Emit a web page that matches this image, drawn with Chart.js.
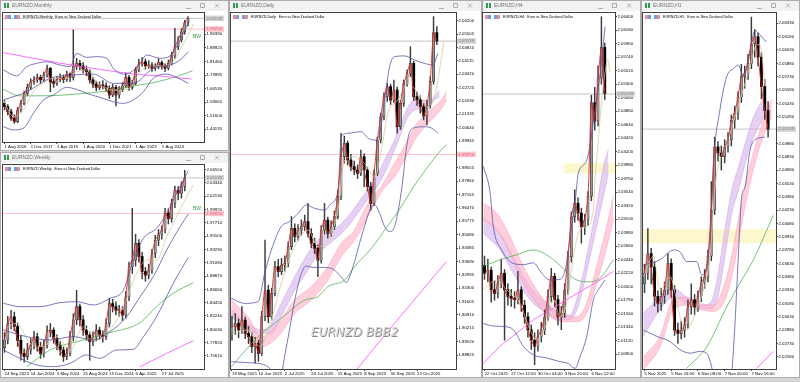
<!DOCTYPE html>
<html>
<head>
<meta charset="utf-8">
<script src="https://cdn.jsdelivr.net/npm/chart.js@4.4.1/dist/chart.umd.min.js"></script>
<style>
  html, body { margin: 0; padding: 0; }
  body { width: 800px; height: 382px; position: relative; overflow: hidden; background: #d5d5d5; }
  canvas { position: absolute; }
</style>
</head>
<body>
<canvas id="monthly" width="229" height="151" style="left:0;top:0"></canvas>
<canvas id="weekly" width="229" height="226" style="left:0;top:152px"></canvas>
<canvas id="daily" width="253" height="378" style="left:229px;top:0"></canvas>
<canvas id="h4" width="159" height="378" style="left:482px;top:0"></canvas>
<canvas id="h1" width="159" height="378" style="left:641px;top:0"></canvas>
<script>
// ---- shared levels ----
const lastPrice = 2.0514;
const pinkLevel = 1.9925;
const lastText = '2.05139';
const pinkText = '1.99250';

// ---- Monthly: one row per 2 months, [open, high, low, close] ----
const monthlyCandles = [
  [1.585,1.600,1.548,1.566],[1.566,1.578,1.521,1.538],[1.538,1.552,1.490,1.502],[1.502,1.521,1.474,1.484],
  [1.484,1.562,1.478,1.548],[1.548,1.601,1.535,1.584],[1.584,1.652,1.575,1.639],[1.639,1.690,1.625,1.672],
  [1.672,1.719,1.660,1.703],[1.703,1.731,1.688,1.713],[1.713,1.745,1.699,1.727],[1.727,1.739,1.694,1.713],
  [1.713,1.756,1.703,1.740],[1.740,1.795,1.728,1.777],[1.777,1.781,1.648,1.703],[1.703,1.722,1.672,1.694],
  [1.694,1.731,1.683,1.716],[1.716,1.746,1.702,1.727],[1.727,1.741,1.698,1.716],[1.716,1.762,1.705,1.745],
  [1.745,1.752,1.703,1.727],[1.727,1.988,1.712,1.786],[1.786,1.832,1.770,1.804],[1.804,1.821,1.768,1.790],
  [1.790,1.808,1.752,1.771],[1.771,1.789,1.735,1.758],[1.758,1.769,1.696,1.713],[1.713,1.728,1.671,1.690],
  [1.690,1.706,1.652,1.672],[1.672,1.703,1.660,1.685],[1.685,1.709,1.664,1.680],[1.680,1.698,1.648,1.667],
  [1.667,1.681,1.611,1.630],[1.630,1.689,1.621,1.672],[1.672,1.683,1.570,1.630],[1.630,1.676,1.612,1.661],
  [1.661,1.699,1.648,1.680],[1.680,1.752,1.669,1.727],[1.727,1.738,1.655,1.672],[1.672,1.712,1.660,1.694],
  [1.694,1.782,1.686,1.768],[1.768,1.826,1.757,1.801],[1.801,1.836,1.788,1.813],[1.813,1.828,1.772,1.790],
  [1.790,1.819,1.776,1.795],[1.795,1.808,1.760,1.777],[1.777,1.803,1.765,1.786],[1.786,1.829,1.774,1.808],
  [1.808,1.818,1.772,1.790],[1.790,1.801,1.758,1.777],[1.777,1.822,1.768,1.804],[1.804,1.866,1.795,1.845],
  [1.845,1.997,1.831,1.896],[1.896,1.951,1.880,1.933],[1.933,1.995,1.921,1.978],[1.978,2.041,1.965,2.028],
  [2.028,2.061,2.010,2.0514]
];
const monthlyPriceTicks = [1.96390,1.88925,1.81460,1.73995,1.66530,1.59065,1.51600,1.44135];
const monthlyDateSlots = [0,8,16,24,32,40,48];
const monthlyDateNames = ['1 Aug 2016','1 Dec 2017','1 Apr 2019','1 Aug 2020','1 Dec 2021','1 Apr 2023','1 Aug 2024'];
const monthlyBandUp = [[-0.36,1.768],[3.7,1.735],[6.8,1.786],[9.8,1.804],[12.9,1.813],[16.9,1.795],[20.0,1.786],[22.0,1.859],[25.1,1.837],[28.1,1.841],[31.2,1.832],[33.2,1.777],[36.3,1.745],[38.3,1.753],[41.4,1.804],[43.4,1.850],[47.5,1.832],[50.5,1.845],[52.5,1.896],[54.6,1.969],[56.4,2.043]];
const monthlyBandMid = [[-0.36,1.603],[6.8,1.648],[13.9,1.722],[21.0,1.740],[27.1,1.745],[33.2,1.694],[39.3,1.694],[45.4,1.777],[50.5,1.795],[53.6,1.823],[56.1,1.868]];
const monthlyBandLow = [[-0.36,1.456],[2.7,1.438],[5.75,1.447],[8.8,1.529],[11.85,1.603],[14.9,1.630],[19.0,1.672],[22.0,1.661],[25.1,1.639],[29.1,1.617],[33.2,1.593],[36.3,1.584],[39.3,1.603],[42.4,1.648],[45.4,1.722],[49.5,1.745],[52.5,1.727],[56.1,1.694]];
const monthlyGreen = [[-0.36,1.661],[4.7,1.625],[13.9,1.626],[24.1,1.639],[32.2,1.654],[39.3,1.680],[44.4,1.694],[49.5,1.716],[53.6,1.738],[57.4,1.764]];
const monthlyMagenta = [[-0.36,1.863],[8.8,1.832],[19.0,1.799],[29.1,1.771],[39.3,1.746],[49.5,1.731],[57.1,1.718]];
const monthlyTan = [[-0.36,1.603],[2.7,1.511],[5.75,1.548],[8.8,1.648],[11.85,1.694],[14.9,1.722],[19.0,1.722],[22.0,1.758],[25.1,1.768],[28.1,1.703],[32.2,1.661],[35.2,1.654],[38.3,1.672],[41.4,1.758],[44.4,1.790],[48.5,1.790],[51.5,1.813],[54.1,1.896],[56.1,1.960],[57.6,2.021]];

// ---- Weekly: one row per 2 weeks ----
const weeklyCandles = [
  [1.770,1.795,1.762,1.7826],[1.7826,1.822,1.776,1.810],[1.810,1.832,1.801,1.821],[1.821,1.829,1.798,1.805],
  [1.805,1.811,1.772,1.782],[1.782,1.790,1.749,1.760],[1.760,1.768,1.746,1.755],[1.755,1.777,1.750,1.766],
  [1.766,1.785,1.759,1.774],[1.774,1.797,1.768,1.788],[1.788,1.794,1.764,1.771],[1.771,1.779,1.752,1.760],
  [1.760,1.782,1.754,1.774],[1.774,1.806,1.769,1.796],[1.796,1.810,1.788,1.799],[1.799,1.803,1.777,1.785],
  [1.785,1.791,1.766,1.774],[1.774,1.780,1.757,1.766],[1.766,1.771,1.747,1.755],[1.755,1.769,1.750,1.760],
  [1.760,1.797,1.756,1.788],[1.788,1.826,1.781,1.816],[1.816,1.865,1.808,1.838],[1.838,1.842,1.806,1.816],
  [1.816,1.823,1.790,1.799],[1.799,1.806,1.782,1.791],[1.791,1.796,1.749,1.780],[1.780,1.796,1.773,1.788],
  [1.788,1.808,1.781,1.799],[1.799,1.804,1.783,1.791],[1.791,1.798,1.779,1.788],[1.788,1.818,1.783,1.810],
  [1.810,1.852,1.804,1.843],[1.843,1.850,1.829,1.838],[1.838,1.846,1.824,1.832],[1.832,1.840,1.822,1.832],
  [1.832,1.838,1.815,1.824],[1.824,1.863,1.819,1.854],[1.854,1.912,1.848,1.904],[1.904,2.001,1.893,1.915],
  [1.915,1.958,1.905,1.943],[1.943,1.949,1.912,1.921],[1.921,1.928,1.884,1.896],[1.896,1.903,1.880,1.890],
  [1.890,1.908,1.884,1.899],[1.899,1.933,1.893,1.926],[1.926,1.956,1.919,1.948],[1.948,1.966,1.939,1.957],
  [1.957,1.972,1.950,1.965],[1.965,2.001,1.960,1.993],[1.993,2.000,1.975,1.984],[1.984,2.016,1.978,2.009],
  [2.009,2.038,2.002,2.031],[2.031,2.037,2.015,2.026],[2.026,2.045,2.018,2.037],[2.037,2.064,2.030,2.0514]
];
const weeklyPriceTicks = [2.06550,2.04340,2.02130,1.99920,1.97710,1.95500,1.93290,1.91080,1.88870,1.86660,1.84450,1.82240,1.80030,1.77820,1.75610];
const weeklyDateSlots = [0,8,16,24,32,40,48];
const weeklyDateNames = ['24 Sep 2023','14 Jan 2024','5 May 2024','25 Aug 2024','15 Dec 2024','6 Apr 2025','27 Jul 2025'];
const weeklyBandUp = [[-0.36,1.8434],[4.7,1.8379],[10.8,1.8379],[16.9,1.8445],[22.0,1.8462],[27.1,1.8407],[32.2,1.8517],[36.3,1.8655],[39.3,1.9153],[42.4,1.9512],[46.4,1.9678],[49.5,1.9926],[52.5,2.0258],[56.1,2.0634]];
const weeklyBandMid = [[-0.36,1.7992],[6.8,1.7881],[13.9,1.7826],[21.0,1.7881],[27.1,1.7826],[32.2,1.7964],[37.3,1.8213],[41.4,1.8545],[45.4,1.8876],[49.5,1.9318],[53.6,1.9705],[56.1,1.9915]];
const weeklyBandLow = [[-0.36,1.7660],[4.7,1.7522],[9.8,1.7412],[14.9,1.7384],[20.0,1.7439],[25.1,1.7578],[29.1,1.7522],[34.2,1.7660],[39.3,1.7671],[42.4,1.7881],[46.4,1.8213],[51.5,1.8766],[56.1,1.9197]];
const weeklyGreen = [[6.8,1.7384],[13.9,1.7660],[24.1,1.7826],[32.2,1.7948],[41.4,1.8114],[46.4,1.8379],[51.5,1.8600],[57.6,1.8777]];
const weeklyMagenta = [[41.4,1.7384],[49.5,1.7605],[57.6,1.7815]];
const weeklyTan = [[-0.36,1.7992],[3.7,1.8102],[7.8,1.7771],[11.85,1.7716],[15.9,1.7881],[20.0,1.7660],[24.1,1.8047],[28.1,1.7826],[32.2,1.7992],[36.3,1.8379],[40.3,1.8932],[43.4,1.9153],[46.4,1.9153],[49.5,1.9539],[52.5,1.9871],[55.1,2.0147],[57.6,2.0396]];

// ---- Daily: one row per 2 sessions ----
const dailyCandles = [
  [1.9000,1.9085,1.8960,1.9030],[1.9030,1.9098,1.8990,1.9047],[1.9047,1.9070,1.8972,1.9013],[1.9013,1.9134,1.8995,1.9064],
  [1.9064,1.9080,1.8968,1.8995],[1.8995,1.9031,1.8942,1.8978],[1.8978,1.8998,1.8895,1.8926],[1.8926,1.8975,1.8840,1.8943],
  [1.8943,1.8960,1.8850,1.8891],[1.8891,1.9110,1.8880,1.9082],[1.9082,1.9480,1.9060,1.9220],[1.9220,1.9245,1.9050,1.9082],
  [1.9082,1.9230,1.9065,1.9203],[1.9203,1.9370,1.9190,1.9342],[1.9342,1.9380,1.9290,1.9316],[1.9316,1.9385,1.9300,1.9350],
  [1.9350,1.9398,1.9318,1.9359],[1.9359,1.9470,1.9340,1.9446],[1.9446,1.9602,1.9430,1.9541],[1.9541,1.9565,1.9470,1.9498],
  [1.9498,1.9560,1.9480,1.9532],[1.9532,1.9585,1.9505,1.9550],[1.9550,1.9610,1.9530,1.9576],[1.9576,1.9671,1.9495,1.9515],
  [1.9515,1.9540,1.9440,1.9463],[1.9463,1.9490,1.9410,1.9437],[1.9437,1.9455,1.9290,1.9376],[1.9376,1.9555,1.9360,1.9532],
  [1.9532,1.9671,1.9510,1.9584],[1.9584,1.9600,1.9490,1.9515],[1.9515,1.9580,1.9500,1.9550],[1.9550,1.9630,1.9535,1.9602],
  [1.9602,1.9740,1.9590,1.9706],[1.9706,2.0035,1.9690,1.9913],[1.9913,2.0020,1.9880,1.9983],[1.9983,1.9995,1.9870,1.9896],
  [1.9896,1.9925,1.9840,1.9861],[1.9861,1.9890,1.9820,1.9844],[1.9844,1.9870,1.9800,1.9827],[1.9827,1.9948,1.9815,1.9913],
  [1.9913,1.9930,1.9758,1.9844],[1.9844,1.9860,1.9735,1.9758],[1.9758,1.9780,1.9636,1.9671],[1.9671,1.9845,1.9660,1.9827],
  [1.9827,2.0015,1.9815,2.0000],[2.0000,2.0140,1.9985,2.0121],[2.0121,2.0245,2.0105,2.0225],[2.0225,2.0294,2.0200,2.0277],
  [2.0277,2.0290,2.0185,2.0208],[2.0208,2.0312,2.0195,2.0260],[2.0260,2.0275,2.0035,2.0069],[2.0069,2.0205,2.0055,2.0190],
  [2.0190,2.0312,2.0175,2.0295],[2.0295,2.0365,2.0280,2.0347],[2.0347,2.0485,2.0330,2.0399],[2.0399,2.0410,2.0205,2.0225],
  [2.0225,2.0250,2.0180,2.0208],[2.0208,2.0230,2.0140,2.0173],[2.0173,2.0190,2.0105,2.0125],[2.0125,2.0205,2.0078,2.0180],
  [2.0180,2.0329,2.0165,2.0305],[2.0305,2.0641,2.0290,2.0558],[2.0558,2.0590,2.0495,2.0514]
];
const dailyPriceTicks = [2.06200,2.05505,2.04810,2.04115,2.03420,2.02725,2.02030,2.01335,2.00640,1.99945,1.99250,1.98555,1.97860,1.97165,1.96470,1.95775,1.95080,1.94385,1.93690,1.92995,1.92300,1.91605,1.90910,1.90215,1.89520,1.88825];
const dailyDateSlots = [0,8,16,24,32,40,48,56];
const dailyDateNames = ['19 May 2025','10 Jun 2025','2 Jul 2025','24 Jul 2025','15 Aug 2025','8 Sep 2025','30 Sep 2025','22 Oct 2025'];
const dailyBandUp = [[-0.2,1.9177],[3.8,1.9151],[7.9,1.9160],[9.9,1.9307],[11.9,1.9428],[14.9,1.9550],[17.4,1.9576],[20.0,1.9619],[22.5,1.9662],[25.0,1.9645],[28.0,1.9636],[30.1,1.9671],[32.1,1.9740],[33.1,2.0017],[35.1,2.0035],[39.1,2.0043],[41.2,2.0009],[43.2,2.0000],[44.7,2.0035],[46.2,2.0208],[47.7,2.0381],[49.2,2.0433],[52.2,2.0437],[55.3,2.0416],[58.3,2.0398],[60.8,2.0390],[62.3,2.0450]];
const dailyBandLow = [[-0.2,1.8848],[4.8,1.8843],[8.9,1.8836],[11.4,1.8813],[12.9,1.8770],[14.7,1.8770],[15.9,1.8874],[17.4,1.9013],[19.0,1.9168],[21.0,1.9307],[22.5,1.9345],[24.5,1.9338],[27.0,1.9338],[30.1,1.9333],[32.1,1.9307],[33.6,1.9276],[34.6,1.9259],[35.6,1.9290],[37.1,1.9368],[38.6,1.9463],[40.1,1.9550],[41.7,1.9636],[43.2,1.9662],[44.7,1.9619],[46.2,1.9550],[47.7,1.9524],[49.2,1.9550],[50.7,1.9671],[51.7,1.9792],[52.7,1.9948],[53.8,2.0043],[55.8,2.0066],[58.3,2.0069],[60.5,2.0061],[62.3,2.0035]];
const dailyGreen = [[-0.2,1.8822],[7.9,1.8978],[14.9,1.9073],[22.0,1.9168],[26.0,1.9186],[29.0,1.9238],[34.1,1.9272],[37.1,1.9342],[42.2,1.9437],[46.2,1.9532],[51.2,1.9653],[54.3,1.9740],[59.3,1.9861],[63.3,1.9948],[64.9,1.9974]];
const dailyMagenta = [[34.6,1.8742],[49.2,1.9047],[64.9,1.9368]];
const dailyTan = [[-0.2,1.8995],[4.8,1.9013],[8.4,1.8926],[11.9,1.9064],[14.9,1.9255],[19.0,1.9446],[23.0,1.9532],[26.0,1.9446],[29.0,1.9480],[32.1,1.9636],[34.1,1.9896],[37.1,1.9913],[40.1,1.9878],[43.2,1.9809],[45.2,1.9948],[47.2,2.0139],[50.2,2.0208],[53.3,2.0295],[56.3,2.0243],[59.3,2.0173],[61.3,2.0225],[63.3,2.0416],[64.1,2.0511]];
const dailyPurpleX = [-0.2,4.8,8.9,11.9,14.9,19.0,23.0,26.0,29.0,32.1,35.1,38.1,40.6,43.2,46.2,49.2,51.2,53.3,55.3,59.3,61.3,62.8];
const dailyPurpleTop = [1.9116,1.9047,1.9013,1.9047,1.9151,1.9290,1.9411,1.9480,1.9515,1.9550,1.9602,1.9671,1.9731,1.9792,1.9896,2.0000,2.0087,2.0173,2.0208,2.0208,2.0225,2.0260];
const dailyPurpleBottom = [1.9082,1.9013,1.8995,1.8995,1.9082,1.9220,1.9324,1.9411,1.9454,1.9498,1.9550,1.9619,1.9680,1.9740,1.9827,1.9948,2.0035,2.0121,2.0156,2.0173,2.0208,2.0225];
const dailyPinkX = [-0.2,4.8,8.9,13.9,19.0,24.0,29.0,33.1,37.1,40.1,42.2,45.2,49.2,52.2,55.3,58.3,61.3,63.8,64.9];
const dailyPinkTop = [1.9168,1.9082,1.8978,1.9047,1.9168,1.9238,1.9342,1.9463,1.9532,1.9636,1.9697,1.9758,1.9879,1.9965,2.0069,2.0130,2.0173,2.0217,2.0251];
const dailyPinkBottom = [1.9099,1.9030,1.8926,1.8978,1.9099,1.9168,1.9272,1.9394,1.9480,1.9567,1.9636,1.9730,1.9810,1.9896,2.0000,2.0069,2.0121,2.0173,2.0208];

// ---- H4: one row per 2 bars ----
const h4Candles = [
  [2.0235,2.0250,2.0212,2.0222],[2.0222,2.0245,2.0208,2.0227],[2.0227,2.0232,2.0175,2.0195],[2.0195,2.0210,2.0178,2.0189],
  [2.0189,2.0218,2.0182,2.0206],[2.0206,2.0245,2.0198,2.0222],[2.0222,2.0228,2.0113,2.0195],[2.0195,2.0205,2.0170,2.0184],
  [2.0184,2.0196,2.0168,2.0181],[2.0181,2.0192,2.0165,2.0179],[2.0179,2.0225,2.0172,2.0195],[2.0195,2.0200,2.0160,2.0170],
  [2.0170,2.0178,2.0140,2.0151],[2.0151,2.0158,2.0118,2.0130],[2.0130,2.0138,2.0098,2.0113],[2.0113,2.0125,2.0073,2.0103],
  [2.0103,2.0130,2.0095,2.0119],[2.0119,2.0142,2.0110,2.0130],[2.0130,2.0162,2.0122,2.0151],[2.0151,2.0195,2.0145,2.0184],
  [2.0184,2.0230,2.0175,2.0217],[2.0217,2.0222,2.0168,2.0179],[2.0179,2.0186,2.0138,2.0151],[2.0151,2.0168,2.0130,2.0157],
  [2.0157,2.0205,2.0150,2.0195],[2.0195,2.0258,2.0188,2.0249],[2.0249,2.0322,2.0240,2.0314],[2.0314,2.0358,2.0305,2.0336],
  [2.0336,2.0345,2.0308,2.0320],[2.0320,2.0328,2.0271,2.0298],[2.0298,2.0318,2.0285,2.0309],[2.0309,2.0355,2.0300,2.0347],
  [2.0347,2.0512,2.0340,2.0500],[2.0500,2.0525,2.0455,2.0470],[2.0470,2.0560,2.0462,2.0540],[2.0540,2.0640,2.0530,2.0590],
  [2.0590,2.0597,2.0505,2.0515]
];
const h4PriceTicks = [2.06400,2.06180,2.05960,2.05740,2.05520,2.05300,2.05080,2.04860,2.04640,2.04420,2.04200,2.03980,2.03760,2.03540,2.03320,2.03100,2.02880,2.02660,2.02440,2.02220,2.02000,2.01780,2.01560,2.01340,2.01120,2.00900];
const h4DateSlots = [0,8,16,24,32];
const h4DateNames = ['22 Oct 2025','27 Oct 12:00','30 Oct 04:00','3 Nov 20:00','6 Nov 12:00'];
const h4BandUp = [[-0.35,2.0396],[1.65,2.0354],[2.64,2.0298],[5.14,2.0260],[8.63,2.0238],[11.63,2.0236],[14.62,2.0239],[17.12,2.0222],[19.61,2.0211],[22.6,2.0212],[24.4,2.0233],[25.8,2.0287],[27.1,2.0336],[28.1,2.0385],[30.6,2.0406],[33.1,2.0488],[34.6,2.0548],[36.1,2.0624]];
const h4BandLow = [[-0.35,2.0140],[2.64,2.0136],[6.14,2.0135],[8.63,2.0130],[11.63,2.0103],[14.62,2.0089],[18.61,2.0084],[22.6,2.0078],[25.1,2.0075],[27.1,2.0067],[28.6,2.0086],[30.6,2.0119],[32.6,2.0179],[34.1,2.0195],[36.1,2.0211]];
const h4Green = [[-0.35,2.0233],[4.64,2.0244],[9.63,2.0252],[14.62,2.0260],[18.61,2.0252],[22.6,2.0235],[26.6,2.0214],[30.59,2.0208],[34.58,2.0214],[38.57,2.0244]];
const h4Magenta = [[-0.35,2.0075],[4.64,2.0103],[9.63,2.0124],[14.62,2.0146],[19.61,2.0162],[24.6,2.0179],[29.59,2.0195],[34.58,2.0211],[38.57,2.0225]];
const h4Tan = [[-0.35,2.0195],[3.64,2.0211],[6.64,2.0195],[10.63,2.0173],[13.62,2.0130],[15.62,2.0113],[18.61,2.0140],[20.61,2.0179],[22.6,2.0151],[24.6,2.0173],[26.6,2.0249],[28.59,2.0293],[30.59,2.0298],[32.58,2.0325],[33.08,2.0374],[34.08,2.0439],[35.08,2.0504],[36.08,2.0548],[36.88,2.0570],[37.58,2.0550]];
const h4PurpleX = [-0.35,4.64,8.63,13.62,18.61,22.6,25.6,27.6,29.59,31.59,33.58,35.58,37.08];
const h4PurpleTop = [2.0314,2.0287,2.0249,2.0200,2.0173,2.0157,2.0154,2.0179,2.0222,2.0276,2.0331,2.0395,2.0423];
const h4PurpleBottom = [2.0287,2.0260,2.0222,2.0179,2.0157,2.0146,2.0146,2.0162,2.0200,2.0249,2.0298,2.0347,2.0385];
const h4PinkX = [-0.35,3.64,7.63,11.63,15.62,19.61,23.6,27.6,30.59,33.58,36.58,38.57];
const h4PinkTop = [2.0336,2.0320,2.0282,2.0233,2.0195,2.0168,2.0154,2.0151,2.0173,2.0233,2.0298,2.0347];
const h4PinkBottom = [2.0309,2.0293,2.0254,2.0206,2.0173,2.0151,2.0143,2.0143,2.0157,2.0206,2.0265,2.0309];
const h4Zone = [23.6, 39.1, 2.03849, 2.04012];

// ---- H1: one row per 2 bars ----
const h1Candles = [
  [2.0340,2.0362,2.0330,2.0352],[2.0352,2.0402,2.0345,2.0374],[2.0374,2.0380,2.0340,2.0359],[2.0359,2.0365,2.0315,2.0326],
  [2.0326,2.0332,2.0308,2.0318],[2.0318,2.0335,2.0310,2.0326],[2.0326,2.0342,2.0318,2.0333],[2.0333,2.0374,2.0328,2.0363],
  [2.0363,2.0368,2.0325,2.0333],[2.0333,2.0338,2.0282,2.0288],[2.0288,2.0296,2.0273,2.0284],[2.0284,2.0298,2.0278,2.0288],
  [2.0288,2.0302,2.0280,2.0294],[2.0294,2.0322,2.0290,2.0314],[2.0314,2.0340,2.0306,2.0322],[2.0322,2.0328,2.0305,2.0314],
  [2.0314,2.0332,2.0309,2.0326],[2.0326,2.0348,2.0320,2.0341],[2.0341,2.0356,2.0335,2.0348],[2.0348,2.0378,2.0342,2.0371],
  [2.0371,2.0455,2.0366,2.0423],[2.0423,2.0505,2.0418,2.0494],[2.0494,2.0500,2.0478,2.0487],[2.0487,2.0495,2.0468,2.0483],
  [2.0483,2.0502,2.0476,2.0494],[2.0494,2.0510,2.0488,2.0502],[2.0502,2.0530,2.0495,2.0524],[2.0524,2.0540,2.0515,2.0532],
  [2.0532,2.0556,2.0525,2.0550],[2.0550,2.0587,2.0544,2.0573],[2.0573,2.0585,2.0560,2.0577],[2.0577,2.0598,2.0570,2.0588],
  [2.0588,2.0640,2.0582,2.0610],[2.0610,2.0626,2.0595,2.0618],[2.0618,2.0622,2.0585,2.0595],[2.0595,2.0600,2.0548,2.0562],
  [2.0562,2.0570,2.0525,2.0535],[2.0535,2.0545,2.0505,2.0514]
];
const h1PriceTicks = [2.06330,2.06180,2.06030,2.05880,2.05730,2.05580,2.05430,2.05280,2.05130,2.04980,2.04830,2.04680,2.04530,2.04380,2.04230,2.04080,2.03930,2.03780,2.03630,2.03480,2.03330,2.03180,2.03030,2.02880,2.02730,2.02580];
const h1DateSlots = [0,8,16,24,32];
const h1DateNames = ['5 Nov 2025','5 Nov 16:00','6 Nov 08:00','7 Nov 00:00','7 Nov 16:00'];
const h1BandUp = [[-0.35,2.0361],[4.64,2.0367],[8.63,2.0378],[10.63,2.0376],[12.62,2.0365],[15.62,2.0365],[17.12,2.0350],[18.61,2.0357],[19.61,2.0389],[20.11,2.0423],[20.61,2.0472],[22.6,2.0536],[24.6,2.0573],[26.6,2.0582],[28.09,2.0586],[29.59,2.0573],[31.59,2.0603],[33.08,2.0625],[34.58,2.0620],[36.38,2.0612]];
const h1BandLow = [[-0.35,2.0288],[3.64,2.0281],[7.63,2.0275],[10.63,2.0266],[13.62,2.0262],[16.62,2.0264],[18.61,2.0262],[19.81,2.0251],[21.11,2.0230],[24.6,2.0215],[26.1,2.0240],[27.1,2.0296],[28.09,2.0371],[29.09,2.0438],[30.09,2.0449],[31.59,2.0490],[33.08,2.0502],[36.08,2.0505]];
const h1Green = [[12.62,2.0245],[18.61,2.0269],[24.6,2.0314],[28.59,2.0341],[32.58,2.0367],[38.57,2.0417]];
const h1Magenta = [[33.58,2.0245],[38.57,2.0264]];
const h1Tan = [[-0.35,2.0348],[2.64,2.0371],[4.64,2.0333],[7.63,2.0348],[10.63,2.0303],[12.62,2.0288],[15.62,2.0311],[17.62,2.0333],[19.61,2.0371],[21.11,2.0449],[22.6,2.0479],[25.6,2.0509],[28.59,2.0547],[31.59,2.0584],[33.58,2.0609],[34.58,2.0609],[36.08,2.0562]];
const h1PurpleX = [-0.35,4.64,8.63,12.62,16.62,19.61,21.8,23.8,26.1,28.1,30.1,32.1,34.1,35.8];
const h1PurpleTop = [2.0307,2.0325,2.0335,2.0325,2.0316,2.0318,2.0346,2.0394,2.0445,2.0471,2.0497,2.0522,2.0539,2.0548];
const h1PurpleBottom = [2.0281,2.0311,2.0325,2.0318,2.0312,2.0312,2.0323,2.0364,2.0419,2.0445,2.0475,2.0500,2.0516,2.0528];
const h1PinkX = [-0.35,4.64,8.63,12.62,16.62,20.61,24.1,26.4,28.8,30.8,32.9,34.8,36.8,38.1];
const h1PinkTop = [2.0258,2.0281,2.0322,2.0325,2.0318,2.0316,2.0341,2.0377,2.0426,2.0461,2.0491,2.0515,2.0537,2.0547];
const h1PinkBottom = [2.0243,2.0269,2.0311,2.0316,2.0311,2.0309,2.0322,2.0353,2.0402,2.0440,2.0473,2.0498,2.0517,2.0528];
const h1Zone = [-0.45, 39.4, 2.03855, 2.04013];

Chart.defaults.font.family = '"Liberation Sans", Arial, sans-serif';
Chart.defaults.font.size = 4.3;
Chart.defaults.color = '#000';

function line(points, color, width, order, extra) {
  return Object.assign({
    type: 'line',
    data: points.map(p => ({x: p[0], y: p[1]})),
    borderColor: color,
    borderWidth: width,
    pointRadius: 0,
    cubicInterpolationMode: 'monotone',
    fill: false,
    order: order
  }, extra || {});
}

// two edges, second one filled down to the first
function band(xs, lo, hi, edge, fillColor, order) {
  return [
    line(xs.map((x, i) => [x, lo[i]]), edge, 0.6, order),
    line(xs.map((x, i) => [x, hi[i]]), edge, 0.6, order, {fill: '-1', backgroundColor: fillColor})
  ];
}

function candles(rows) {
  const up = rows.map(r => r[3] >= r[0]);
  return [
    {type: 'bar', data: rows.map((r, i) => ({x: i, y: [r[2], r[1]]})),
     backgroundColor: '#3a3a3a', barThickness: 0.8, grouped: false, order: 6},
    {type: 'bar', data: rows.map((r, i) => ({x: i, y: [r[0], r[3]]})),
     backgroundColor: up.map(u => u ? '#9a9a9a' : '#000000'),
     borderColor: '#1e1e1e', borderWidth: up.map(u => u ? 0.5 : 0), borderSkipped: false,
     barThickness: 2.2, grouped: false, minBarLength: 1, order: 5}
  ];
}

const chrome = {
  id: 'chrome',
  beforeDraw(chart, args, o) {
    const ctx = chart.ctx, w = chart.width, h = chart.height;
    ctx.save();
    ctx.fillStyle = '#ffffff';
    ctx.fillRect(0, 0, w, h);
    ctx.fillStyle = '#f2f2f2';
    ctx.fillRect(0, 0, w, 11);
    ctx.strokeStyle = '#acacac';
    ctx.lineWidth = 1;
    ctx.strokeRect(0.5, 0.5, w - 1, h - 1);
    ctx.fillStyle = '#2f9e52';
    ctx.fillRect(4, 3, 2, 5);
    ctx.fillRect(7, 3, 2, 5);
    ctx.fillStyle = '#707070';
    ctx.font = '5px "Liberation Sans"';
    ctx.textBaseline = 'middle';
    ctx.fillText(o.title, 12, 6);
    ctx.strokeStyle = '#9c9c9c';
    ctx.lineWidth = 0.8;
    ctx.beginPath();
    ctx.moveTo(w - 43, 8.5); ctx.lineTo(w - 38, 8.5);
    ctx.rect(w - 28.5, 3.5, 4, 4);
    ctx.moveTo(w - 14, 3.5); ctx.lineTo(w - 10, 7.5);
    ctx.moveTo(w - 10, 3.5); ctx.lineTo(w - 14, 7.5);
    ctx.stroke();
    ctx.restore();
  },
  afterDraw(chart, args, o) {
    const ctx = chart.ctx, a = chart.chartArea;
    const xs = chart.scales.x, ys = chart.scales.y;
    ctx.save();
    ctx.strokeStyle = '#404040';
    ctx.lineWidth = 1;
    ctx.strokeRect(a.left - 0.5, a.top - 0.5, a.right - a.left + 1, a.bottom - a.top + 1);
    // header icons and symbol text
    ctx.fillStyle = '#ef8c8c'; ctx.fillRect(a.left + 2, a.top + 2, 3, 4);
    ctx.fillStyle = '#6f9fe0'; ctx.fillRect(a.left + 5, a.top + 2, 3, 4);
    ctx.fillStyle = '#6f9fe0'; ctx.fillRect(a.left + 11, a.top + 2, 3, 4);
    ctx.fillStyle = '#ef8c8c'; ctx.fillRect(a.left + 14, a.top + 2, 3, 4);
    ctx.fillStyle = '#000000';
    ctx.font = '3.7px "Liberation Sans"';
    ctx.textBaseline = 'middle';
    ctx.textAlign = 'left';
    ctx.fillText(o.header, a.left + 20, a.top + 4);
    // price boxes on the axis
    ctx.font = '4.3px "Liberation Sans"';
    o.marks.forEach(m => {
      if (m.v < ys.min || m.v > ys.max) return;
      const y = ys.getPixelForValue(m.v);
      ctx.fillStyle = m.bg;
      ctx.fillRect(a.right + 1, y - 2.8, 19, 5.6);
      ctx.fillStyle = m.fg;
      ctx.fillText(m.text, a.right + 2.5, y);
    });
    if (o.bw) {
      ctx.fillStyle = '#3f9b45';
      ctx.font = '5px "Liberation Sans"';
      ctx.fillText('BW', xs.getPixelForValue(o.bw[0]), ys.getPixelForValue(o.bw[1]));
    }
    if (o.watermark) {
      ctx.font = 'italic 12px "DejaVu Sans"';
      ctx.textAlign = 'center';
      ctx.fillStyle = '#8a8a8a';
      ctx.fillText(o.watermark[0], o.watermark[1] + 0.8, o.watermark[2] + 0.8);
      ctx.fillStyle = '#d2d2d2';
      ctx.fillText(o.watermark[0], o.watermark[1], o.watermark[2]);
    }
    ctx.restore();
  }
};

function drawPanel(id, p) {
  const sets = [];
  if (p.zone) {
    sets.push(...band([p.zone[0], p.zone[1]], [p.zone[2], p.zone[2]], [p.zone[3], p.zone[3]], 'rgba(0,0,0,0)', '#fcf7cc', 14));
  }
  sets.push(line([[p.xMin, pinkLevel], [p.xMax, pinkLevel]], '#ffc0cb', 1, 13));
  sets.push(line([[p.xMin, lastPrice], [p.xMax, lastPrice]], '#c4c4c4', 1, 13));
  if (p.purple) sets.push(...band(p.purple[0], p.purple[2], p.purple[1], '#cfa6e4', 'rgba(214,178,236,0.6)', 11));
  if (p.pink) sets.push(...band(p.pink[0], p.pink[2], p.pink[1], '#ff9fb6', 'rgba(255,176,196,0.6)', 10));
  sets.push(...candles(p.candles));
  if (p.magenta) sets.push(line(p.magenta, '#ff5cff', 0.9, 3));
  if (p.green) sets.push(line(p.green, '#56b356', 0.8, 3));
  p.bands.forEach(b => sets.push(line(b, '#5757ab', 0.8, 2)));
  sets.push(line(p.tan, '#d9c99c', 0.8, 2));
  sets.push(line(p.candles.map((r, i) => [i, r[3]]), '#e8261e', 0.9, 1, {cubicInterpolationMode: 'default', tension: 0.2}));

  new Chart(document.getElementById(id), {
    type: 'bar',
    data: {datasets: sets},
    options: {
      responsive: false,
      animation: false,
      devicePixelRatio: 1,
      events: [],
      layout: {padding: {left: p.padLeft, top: 13, right: 0, bottom: 0}},
      plugins: {
        legend: {display: false},
        tooltip: {enabled: false},
        chrome: {
          title: p.title,
          header: p.header,
          bw: p.bw,
          watermark: p.watermark,
          marks: [
            {v: lastPrice, text: lastText, bg: '#d4d4d4', fg: '#777777'},
            {v: pinkLevel, text: pinkText, bg: '#ffc6d0', fg: '#e05577'}
          ]
        }
      },
      scales: {
        x: {
          type: 'linear', min: p.xMin, max: p.xMax, offset: false,
          grid: {offset: false, drawOnChartArea: false, drawTicks: true, tickLength: 2, color: '#000', lineWidth: 0.7},
          border: {display: false},
          ticks: {autoSkip: false, maxRotation: 0, minRotation: 0, align: 'start', padding: 0,
                  callback: (v, i) => p.dateNames[i]},
          afterBuildTicks: s => { s.ticks = p.dateSlots.map(v => ({value: v})); },
          afterFit: s => { s.height = 9; }
        },
        y: {
          type: 'linear', position: 'right', min: p.yMin, max: p.yMax,
          grid: {drawOnChartArea: false, drawTicks: true, tickLength: 2, color: '#000', lineWidth: 0.7},
          border: {display: false},
          ticks: {padding: 0.5, callback: v => v.toFixed(5)},
          afterBuildTicks: s => { s.ticks = p.priceTicks.map(v => ({value: v})); },
          afterFit: s => { s.width = p.axisWidth; }
        }
      }
    },
    plugins: [chrome]
  });
}

drawPanel('monthly', {
  title: 'EURNZD,Monthly', header: 'EURNZD,Monthly:  Euro vs New Zealand Dollar',
  candles: monthlyCandles, priceTicks: monthlyPriceTicks, dateSlots: monthlyDateSlots, dateNames: monthlyDateNames,
  xMin: -0.458, xMax: 60.88, yMin: 1.3715, yMax: 2.0811, padLeft: 3, axisWidth: 25,
  bands: [monthlyBandUp, monthlyBandMid, monthlyBandLow], green: monthlyGreen, magenta: monthlyMagenta, tan: monthlyTan,
  bw: [57.5, 1.949]
});
drawPanel('weekly', {
  title: 'EURNZD,Weekly', header: 'EURNZD,Weekly:  Euro vs New Zealand Dollar',
  candles: weeklyCandles, priceTicks: weeklyPriceTicks, dateSlots: weeklyDateSlots, dateNames: weeklyDateNames,
  xMin: -0.458, xMax: 60.88, yMin: 1.7345, yMax: 2.0728, padLeft: 3, axisWidth: 25,
  bands: [weeklyBandUp, weeklyBandMid, weeklyBandLow], green: weeklyGreen, magenta: weeklyMagenta, tan: weeklyTan,
  bw: [57.5, 1.9998]
});
drawPanel('daily', {
  title: 'EURNZD,Daily', header: 'EURNZD,Daily:  Euro vs New Zealand Dollar',
  candles: dailyCandles, priceTicks: dailyPriceTicks, dateSlots: dailyDateSlots, dateNames: dailyDateNames,
  xMin: -0.30, xMax: 67.8, yMin: 1.8810, yMax: 2.0660, padLeft: 2, axisWidth: 26,
  bands: [dailyBandUp, dailyBandLow], green: dailyGreen, magenta: dailyMagenta, tan: dailyTan,
  purple: [dailyPurpleX, dailyPurpleTop, dailyPurpleBottom], pink: [dailyPinkX, dailyPinkTop, dailyPinkBottom],
  watermark: ['EURNZD BBB2', 125.7, 333.3]
});
drawPanel('h4', {
  title: 'EURNZD,H4', header: 'EURNZD,H4:  Euro vs New Zealand Dollar',
  candles: h4Candles, priceTicks: h4PriceTicks, dateSlots: h4DateSlots, dateNames: h4DateNames,
  xMin: -0.45, xMax: 39.07, yMin: 2.0066, yMax: 2.0646, padLeft: 1, axisWidth: 26,
  bands: [h4BandUp, h4BandLow], green: h4Green, magenta: h4Magenta, tan: h4Tan,
  purple: [h4PurpleX, h4PurpleTop, h4PurpleBottom], pink: [h4PinkX, h4PinkTop, h4PinkBottom],
  zone: h4Zone
});
drawPanel('h1', {
  title: 'EURNZD,H1', header: 'EURNZD,H1:  Euro vs New Zealand Dollar',
  candles: h1Candles, priceTicks: h1PriceTicks, dateSlots: h1DateSlots, dateNames: h1DateNames,
  xMin: -0.45, xMax: 39.37, yMin: 2.02442, yMax: 2.06446, padLeft: 2, axisWidth: 24,
  bands: [h1BandUp, h1BandLow], green: h1Green, magenta: h1Magenta, tan: h1Tan,
  purple: [h1PurpleX, h1PurpleTop, h1PurpleBottom], pink: [h1PinkX, h1PinkTop, h1PinkBottom],
  zone: h1Zone
});
</script>
</body>
</html>
